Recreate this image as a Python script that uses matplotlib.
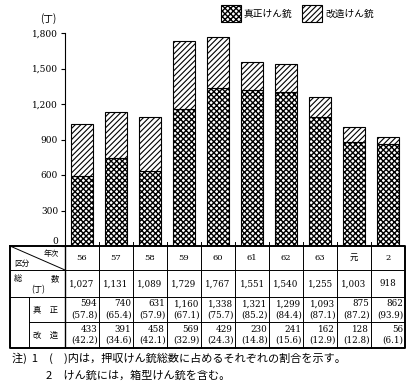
import matplotlib
matplotlib.use("Agg")
import matplotlib.pyplot as plt
import matplotlib.transforms as mtransforms
from matplotlib.patches import Rectangle

plt.rcParams['font.family'] = ['Noto Sans CJK JP', 'DejaVu Sans']
plt.rcParams['hatch.linewidth'] = 0.8

years = ["56", "57", "58", "59", "60", "61", "62", "63", "元", "2"]
total = [1027, 1131, 1089, 1729, 1767, 1551, 1540, 1255, 1003, 918]
genuine = [594, 740, 631, 1160, 1338, 1321, 1299, 1093, 875, 862]
genuine_pct = [57.8, 65.4, 57.9, 67.1, 75.7, 85.2, 84.4, 87.1, 87.2, 93.9]
modified = [433, 391, 458, 569, 429, 230, 241, 162, 128, 56]
modified_pct = [42.2, 34.6, 42.1, 32.9, 24.3, 14.8, 15.6, 12.9, 12.8, 6.1]
yticks = [0, 300, 600, 900, 1200, 1500, 1800]

W, H = 412, 384
fig = plt.figure(figsize=(W / 100, H / 100), dpi=100)

def fx(px):
    return px / W

def fy(py):
    return 1 - py / H

CHECK = 'xxxxxx'
DIAG = '//////'
CHECK_LW = 1.0

# ---- main bar axes ----
ax = fig.add_axes([fx(65), fy(246), fx(405) - fx(65), fy(33) - fy(246)])
x = list(range(len(years)))
bw = 0.64
b1 = ax.bar(x, genuine, width=bw, facecolor='white', edgecolor='black',
            hatch=CHECK, linewidth=0.8)
b2 = ax.bar(x, modified, bottom=genuine, width=bw, facecolor='white',
            edgecolor='black', hatch=DIAG, linewidth=0.8)
for p in b1:
    if hasattr(p, 'set_hatch_linewidth'):
        p.set_hatch_linewidth(CHECK_LW)
ax.set_xlim(-0.5, len(years) - 0.5)
ax.set_ylim(0, 1800)
ax.set_yticks(yticks)
ax.set_yticklabels([f"{v:,}" for v in yticks], fontsize=6.5,
                   family=['DejaVu Serif'])
ax.tick_params(axis='y', length=3, width=0.8, pad=2)
lab0 = ax.get_yticklabels()[0]
lab0.set_transform(lab0.get_transform() +
                   mtransforms.ScaledTranslation(0, 6 / 100, fig.dpi_scale_trans))
ax.set_xticks([])
for s in ['top', 'right', 'bottom']:
    ax.spines[s].set_visible(False)
ax.spines['left'].set_linewidth(0.8)
fig.text(fx(48), fy(19), "(丁)", fontsize=7, ha='center', va='center')

# legend
lg = [(CHECK, "真正けん銃", 221), (DIAG, "改造けん銃", 302)]
for hatch, lab, px in lg:
    r = Rectangle((fx(px), fy(22)), fx(20), fy(5) - fy(22), transform=fig.transFigure,
                  facecolor='white', edgecolor='black', hatch=hatch, linewidth=0.8)
    if hatch == CHECK and hasattr(r, 'set_hatch_linewidth'):
        r.set_hatch_linewidth(CHECK_LW)
    fig.add_artist(r)
    fig.text(fx(px + 23), fy(13.5), lab, fontsize=7, ha='left', va='center')

# ---- table axes ----
tx0 = -0.5 - 55 / 34
tax = fig.add_axes([fx(10), fy(348), fx(405) - fx(10), fy(246) - fy(348)])
tax.set_xlim(tx0, len(years) - 0.5)
tax.set_ylim(348, 246)
tax.axis('off')
lw = 0.7
tax.plot([tx0, 9.5, 9.5, tx0, tx0], [246, 246, 348, 348, 246], color='black', lw=1.4,
         clip_on=False)
tax.plot([tx0, 9.5], [270, 270], color='black', lw=lw)
tax.plot([tx0, 9.5], [297, 297], color='black', lw=lw)
xin = tx0 + 19 / 34
tax.plot([xin, 9.5], [322, 322], color='black', lw=lw)
tax.plot([-0.5, -0.5], [246, 348], color='black', lw=1.0)
for i in range(1, len(years)):
    tax.plot([i - 0.5, i - 0.5], [242, 348], color='black', lw=lw, clip_on=False)
tax.plot([xin, xin], [297, 348], color='black', lw=lw)
tax.plot([tx0, -0.5], [246, 270], color='black', lw=lw)
tax.text(-0.5 - 14 / 34, 254, "年次", fontsize=5.5, ha='center', va='center')
tax.text(tx0 + 12 / 34, 264, "区分", fontsize=5.5, ha='center', va='center')
tax.text(tx0 + 8 / 34, 279, "総", fontsize=6, ha='center', va='center')
tax.text(-0.5 - 10 / 34, 279, "数", fontsize=6, ha='center', va='center')
tax.text(tx0 + 28 / 34, 290, "(丁)", fontsize=6, ha='center', va='center')
tax.text(tx0 + 36 / 34, 310, "真　正", fontsize=6, ha='center', va='center')
tax.text(tx0 + 36 / 34, 335, "改　造", fontsize=6, ha='center', va='center')

num_font = ['DejaVu Serif', 'Noto Sans CJK JP']
for i, yr in enumerate(years):
    tax.text(i, 258, yr, fontsize=6, ha='center', va='center', family=num_font)
    tax.text(i, 284, f"{total[i]:,}", fontsize=6.3, ha='center', va='center',
             family=num_font)
    tax.text(i + 0.44, 304, f"{genuine[i]:,}", fontsize=6.3, ha='right', va='center',
             family=num_font)
    tax.text(i + 0.46, 315, f"({genuine_pct[i]:.1f})", fontsize=6.3, ha='right',
             va='center', family=num_font)
    tax.text(i + 0.44, 329, f"{modified[i]:,}", fontsize=6.3, ha='right', va='center',
             family=num_font)
    tax.text(i + 0.46, 340, f"({modified_pct[i]:.1f})", fontsize=6.3, ha='right',
             va='center', family=num_font)

# notes
fig.text(fx(12), fy(358), "注)  1　(　)内は，押収けん銃総数に占めるそれぞれの割合を示す。",
         fontsize=8, ha='left', va='center')
fig.text(fx(46), fy(376), "2　けん銃には，箱型けん銃を含む。",
         fontsize=8, ha='left', va='center')

fig.savefig("out.png", dpi=100)
